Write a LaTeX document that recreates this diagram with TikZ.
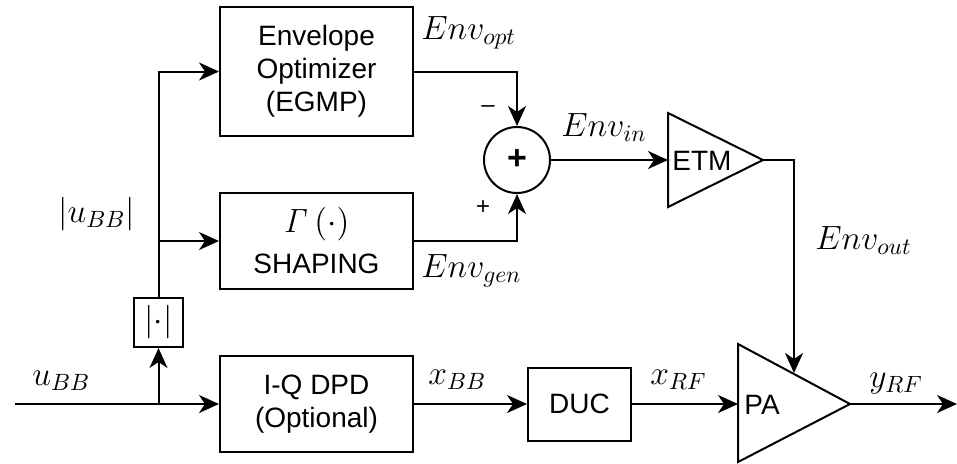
\RequirePackage{fix-cm}
\documentclass[tikz,border=0pt]{standalone}
\usepackage[no-math]{fontspec}
\setmainfont{Liberation Sans}
\usetikzlibrary{arrows.meta}
\newcommand{\mth}[1]{{\fontsize{16.8}{16.5}\selectfont$#1$}}
\tikzset{
  blk/.style={draw, line width=1pt, inner sep=0pt, align=center, font=\fontsize{14}{16.5}\selectfont},
  arr/.style={line width=1pt, -{Stealth[length=10pt,width=9pt,inset=3pt]}},
  wire/.style={line width=1pt},
  lbl/.style={inner sep=0pt, anchor=base west, font=\fontsize{16.8}{20}\selectfont},
  sgn/.style={inner sep=0pt, font=\fontsize{12}{12}\selectfont},
  tri/.style={inner sep=0pt, anchor=west, font=\fontsize{14}{16.5}\selectfont},
}
\begin{document}
\begin{tikzpicture}[x=0.5pt,y=-0.5pt]
\useasboundingbox (0,0) rectangle (957,463);
% blocks
\node[blk, minimum width=96.5pt, minimum height=64.5pt] (env) at (316.5,71.5) {Envelope\\Optimizer\\(EGMP)};
\node[blk, minimum width=96.5pt, minimum height=48pt] (gam) at (316.5,241) {\mth{\mathit{\Gamma}\left(\cdot\right)}\\[4pt]SHAPING};
\node[blk, minimum width=96.5pt, minimum height=48pt] (dpd) at (316.5,404) {I-Q DPD\\(Optional)};
\node[blk, minimum width=51.5pt, minimum height=36.5pt] (duc) at (579.5,404) {DUC};
\node[blk, minimum width=24.5pt, minimum height=24.5pt] (abs) at (158.5,322.5) {\mth{|{\cdot}|}};
\node[draw, circle, line width=1pt, minimum size=33pt, inner sep=0pt, font=\bfseries\fontsize{17}{17}\selectfont] (sum) at (517,160) {+};
% triangles
\coordinate (etmin) at (668,160);
\coordinate (etmout) at (763,160);
\draw[wire] (668,113) -- (etmout) -- (668,207) -- cycle;
\node[tri] (etm) at (672,161) {ETM};
\coordinate (pain) at (738,404);
\coordinate (paout) at (850,404);
\coordinate (pactl) at (794,373);
\draw[wire] (738,344) -- (paout) -- (738,462) -- cycle;
\node[tri] (pa) at (744,405) {PA};
% connectors
\coordinate (in) at (15,404);
\coordinate (j) at (158.5,404);
\coordinate (out) at (957,404);
\draw[arr] (in) -- (dpd.west);
\draw[arr] (j) -- (abs.south);
\draw[arr] (abs.north) |- (env.west);
\draw[arr] (abs.north |- gam.west) -- (gam.west);
\draw[arr] (env.east) -| (sum.north);
\draw[arr] (gam.east) -| (sum.south);
\draw[arr] (sum.east) -- (etmin);
\draw[arr] (etmout) -| (pactl);
\draw[arr] (dpd.east) -- (duc.west);
\draw[arr] (duc.east) -- (pain);
\draw[arr] (paout) -- (out);
% labels
\node[lbl] (lopt) at (421,39) {$Env_{opt}$};
\node[lbl] (lgen) at (421,277) {$Env_{gen}$};
\node[lbl] (lin) at (561,136) {$Env_{in}$};
\node[lbl] (lout) at (815,249) {$Env_{out}$};
\node[lbl] (lu) at (32,385) {$u_{BB}$};
\node[lbl] (labsu) at (58,222) {$|u_{BB}|$};
\node[lbl] (lx) at (428,384) {$x_{BB}$};
\node[lbl] (lxrf) at (650,384) {$x_{RF}$};
\node[lbl] (lyrf) at (869,387) {$y_{RF}$};
\node[sgn] (minus) at (488,109) {\textendash};
\node[sgn] (plus) at (483,208) {+};
\end{tikzpicture}
\end{document}
